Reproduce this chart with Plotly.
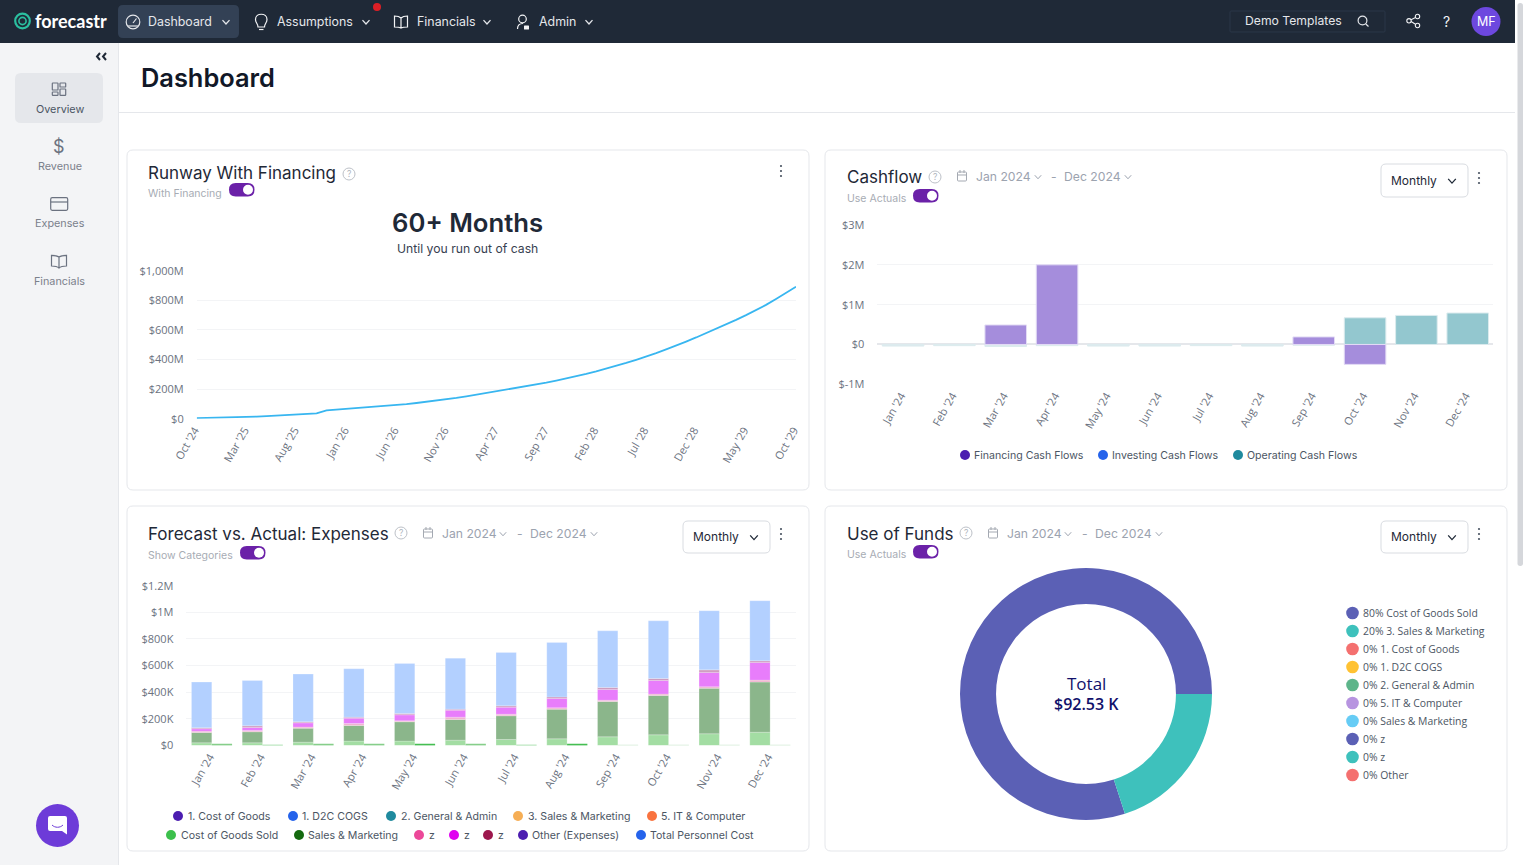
import re
import numpy as np
import pandas as pd
import plotly.graph_objects as go

W, H = 1525, 865

# ---------- data ----------
runway_values = [4.5, 5.5, 7, 8, 9.5, 11, 14, 17, 20, 23.5, 27, 29.5, 36, 56, 61, 65, 70, 75, 81, 86, 92,
                 99, 106, 114, 122, 130, 140, 151, 162, 172, 183, 194, 206, 218, 230, 243, 257, 271, 287,
                 303, 320, 338, 357, 377, 398, 419, 443, 468, 493, 521, 549, 578, 607, 637, 668, 700, 733,
                 769, 809, 850, 892]
runway_months = list(pd.date_range("2024-10-01", periods=61, freq="MS").strftime("%b '%y"))
runway_ticks = ["Oct '24", "Mar '25", "Aug '25", "Jan '26", "Jun '26", "Nov '26", "Apr '27", "Sep '27",
                "Feb '28", "Jul '28", "Dec '28", "May '29", "Oct '29"]
runway_ytick = [0, 200, 400, 600, 800, 1000]
runway_ylab = ["$0", "$200M", "$400M", "$600M", "$800M", "$1,000M"]

months_2024 = ["Jan '24", "Feb '24", "Mar '24", "Apr '24", "May '24", "Jun '24", "Jul '24", "Aug '24",
               "Sep '24", "Oct '24", "Nov '24", "Dec '24"]

cash_financing = [None, None, 0.49, 2.0, None, None, None, None, 0.19, -0.5, None, None]
cash_operating = [-0.04, -0.03, -0.05, -0.03, -0.04, -0.04, -0.03, -0.04, -0.02, 0.67, 0.73, 0.79]
cash_ytick = [-1, 0, 1, 2, 3]
cash_ylab = ["$-1M", "$0", "$1M", "$2M", "$3M"]

exp_cogs = [20, 20, 25, 33, 33, 40, 45, 50, 65, 80, 88, 100]
exp_sales = [78, 83, 105, 117, 145, 155, 178, 223, 265, 296, 341, 376]
exp_z1 = [9, 10, 8, 15, 7, 18, 12, 10, 10, 10, 12, 15]
exp_z2 = [18, 22, 32, 40, 45, 52, 53, 70, 81, 102, 108, 133]
exp_z3 = [8, 13, 8, 8, 10, 8, 10, 12, 15, 15, 19, 12]
exp_personnel = [343, 340, 358, 363, 376, 383, 401, 409, 425, 433, 444, 451]
exp_second = [10, 5, 10, 10, 12, 10, 5, 12, 6, 6, 6, 6]
exp_second_colors = ["#86CE8A", "#7DCF84", "#86CE8A", "#86CE8A", "#45BE52", "#86CE8A", "#7DCF84", "#45BE52",
                     "#CBE8CD", "#CBE8CD", "#CBE8CD", "#CBE8CD"]
exp_ytick = [0, 200, 400, 600, 800, 1000, 1200]
exp_ylab = ["$0", "$200K", "$400K", "$600K", "$800K", "$1M", "$1.2M"]

funds_labels = ["Cost of Goods Sold", "3. Sales & Marketing", "1. Cost of Goods", "1. D2C COGS",
                "2. General & Admin", "5. IT & Computer", "Sales & Marketing", "z", "z", "Other"]
funds_values = [74.02, 18.51, 0, 0, 0, 0, 0, 0, 0, 0]
funds_pct = [80, 20, 0, 0, 0, 0, 0, 0, 0, 0]
funds_colors = ["#5B60B5", "#3EC1BC", "#F4706F", "#FFC233", "#5DB58A", "#B794E0", "#66CCF5", "#5B60B5",
                "#3EC1BC", "#F4706F"]

cash_legend = ["Financing Cash Flows", "Investing Cash Flows", "Operating Cash Flows"]
cash_legend_colors = ["#4C1DB0", "#2563EB", "#1F8A9E"]
exp_legend_rows = [
    ["1. Cost of Goods", "1. D2C COGS", "2. General & Admin", "3. Sales & Marketing", "5. IT & Computer"],
    ["Cost of Goods Sold", "Sales & Marketing", "z", "z", "z", "Other (Expenses)", "Total Personnel Cost"],
]
exp_legend_colors = [
    ["#4C1DB0", "#2563EB", "#1F8A9E", "#F6AE55", "#F9733F"],
    ["#3CC04C", "#14690F", "#EC4899", "#E000F0", "#9D174D", "#4C1DB0", "#2563EB"],
]

# ---------- helpers ----------
X = lambda px: px / W
Y = lambda py: 1 - py / H
shapes, notes = [], []
INTER, OPEN = "Inter", "Open Sans"
TICK = dict(family=OPEN, size=11, color="#6B7280")


def path(d, fill=None, stroke=None, width=1.2):
    out, i = [], 0
    for tok in re.findall(r"[MLCQZ]|-?\d+\.?\d*", d):
        if tok in "MLCQZ":
            out.append(tok)
        else:
            out.append(f"{X(float(tok)) if i % 2 == 0 else Y(float(tok)):.5f}")
            i += 1
    shapes.append(dict(type="path", path=" ".join(out), xref="paper", yref="paper", layer="below",
                       fillcolor=fill or "rgba(0,0,0,0)",
                       line=dict(color=stroke or "rgba(0,0,0,0)", width=width if stroke else 0)))


def rrect(x0, y0, x1, y1, r, fill=None, stroke=None, width=1):
    path(f"M{x0 + r} {y0} L{x1 - r} {y0} Q{x1} {y0} {x1} {y0 + r} L{x1} {y1 - r} Q{x1} {y1} {x1 - r} {y1} "
         f"L{x0 + r} {y1} Q{x0} {y1} {x0} {y1 - r} L{x0} {y0 + r} Q{x0} {y0} {x0 + r} {y0} Z", fill, stroke, width)


def circ(cx, cy, r, fill=None, stroke=None, width=1.2):
    shapes.append(dict(type="circle", xref="paper", yref="paper", layer="below",
                       x0=X(cx - r), x1=X(cx + r), y0=Y(cy + r), y1=Y(cy - r),
                       fillcolor=fill or "rgba(0,0,0,0)",
                       line=dict(color=stroke or "rgba(0,0,0,0)", width=width if stroke else 0)))


def text(x, y, s, size=11, color="#4B5563", family=INTER, anchor="left", weight=400):
    nudge = -1 if anchor == "left" else 0
    notes.append(dict(x=X(x + nudge), y=Y(y), xref="paper", yref="paper", text=s, showarrow=False, xanchor=anchor,
                      yanchor="middle", borderpad=0,
                      font=dict(family=family, size=size, color=color, weight=weight)))


def chevron(cx, cy, c="#E5E7EB", s=3.5, width=1.3):
    path(f"M{cx - s} {cy - s * 0.55} L{cx} {cy + s * 0.55} L{cx + s} {cy - s * 0.55}", None, c, width)


def kebab(cx, cy):
    for d in (-5, 0, 5):
        circ(cx, cy + d, 1.1, "#4B5563")


def helpicon(cx, cy):
    circ(cx, cy, 6, None, "#BDC1C8", 1)
    text(cx, cy, "?", 8.5, "#B0B5BD", anchor="center")


def calendar(cx, cy):
    rrect(cx - 4.5, cy - 4, cx + 4.5, cy + 5, 1, None, "#A4A9B2", 1)
    path(f"M{cx - 4.5} {cy - 1} L{cx + 4.5} {cy - 1}", None, "#A4A9B2", 1)
    path(f"M{cx - 2} {cy - 6} L{cx - 2} {cy - 3} M{cx + 2} {cy - 6} L{cx + 2} {cy - 3}", None, "#A4A9B2", 1)


def toggle(x0, y0):
    rrect(x0, y0, x0 + 25.5, y0 + 13.5, 6.7, "#6B21A8")
    circ(x0 + 19, y0 + 6.7, 5, "#FFFFFF")


def dates(cal, jan, c1, dash, dec, c2, y):
    calendar(cal, y)
    text(jan, y, "Jan 2024", 12.2, "#9CA3AF")
    chevron(c1, y + 1, "#9CA3AF", 3.2, 1)
    text(dash, y, "-", 12.2, "#9CA3AF", anchor="center")
    text(dec, y, "Dec 2024", 12.2, "#9CA3AF")
    chevron(c2, y + 1, "#9CA3AF", 3.2, 1)


def dropdown(x0, y0, y1):
    rrect(x0, y0, x0 + 87, y1, 5, "#FFFFFF", "#D9DCE1", 1)
    text(x0 + 10, (y0 + y1) / 2 - 0.5, "Monthly", 12, "#1F2937")
    chevron(x0 + 71, (y0 + y1) / 2 + 0.5, "#1F2937", 3.8, 1.3)


# ---------- page chrome ----------
path("M0 0 L1515 0 L1515 43 L0 43 Z", "#1F2937")
path("M0 43 L118 43 L118 865 L0 865 Z", "#F3F4F6")
path("M118.5 43 L118.5 865", None, "#E5E7EB", 1)
path("M119 112.5 L1515 112.5", None, "#E5E7EB", 1)
rrect(1517.5, 3, 1523, 566, 2.7, "#D5D7DB")

# logo
circ(22.5, 21, 7.3, None, "#2BBFA0", 2.2)
circ(22.5, 21, 3.6, None, "#2BBFA0", 1.6)
path("M13 15 L17 12.5", None, "#1F2937", 2)
text(35, 21, "forecastr", 18, "#FFFFFF", "Lato", weight=700)

# top nav
rrect(118, 5, 239, 38, 5, "#334155")
circ(133, 22, 6.8, None, "#E5E7EB", 1.2)
path("M133 23 L136.5 18.5", None, "#E5E7EB", 1.2)
path("M128 26 L138 26", None, "#E5E7EB", 1.2)
text(148, 21.5, "Dashboard", 12.4, "#E5E7EB")
chevron(226, 22)
path("M258 27 C258 23.5 255.5 23 255.5 19.5 C255.5 12.5 267 12.5 267 19.5 C267 23 264.5 23.5 264.5 27 Z", None, "#F3F4F6", 1.2)
path("M259 29.5 L263.5 29.5", None, "#F3F4F6", 1.2)
text(277, 21.5, "Assumptions", 12.4, "#E5E7EB")
chevron(366, 22)
circ(377, 7, 4, "#DC1F26")
path("M401 18 C399 16 397 16 394.5 16 L394.5 27 C397 27 399 27 401 28 C403 27 405 27 407.5 27 L407.5 16 C405 16 403 16 401 18 Z M401 18 L401 28",
     None, "#F3F4F6", 1.2)
text(417, 21.5, "Financials", 12.4, "#E5E7EB")
chevron(487, 22)
circ(522.5, 19, 3.8, None, "#F3F4F6", 1.2)
path("M517.5 29 C517.5 25 520 23.5 523 23.5", None, "#F3F4F6", 1.2)
rrect(524, 25.5, 529, 29.5, 0.6, "#F3F4F6")
text(539, 21.5, "Admin", 12.4, "#E5E7EB")
chevron(589, 22)

rrect(1230, 11, 1385, 32, 1, None, "#2B3748", 1)
text(1245, 20.5, "Demo Templates", 12.2, "#E5E7EB")
circ(1362.5, 20.5, 4.4, None, "#E5E7EB", 1.2)
path("M1365.8 24 L1368.5 26.5", None, "#E5E7EB", 1.2)
path("M1417.5 16.5 L1409.5 20.5 L1417.5 25.5", None, "#F3F4F6", 1.1)
circ(1417.5, 16.5, 2.2, "#1F2937", "#F3F4F6", 1.1)
circ(1409, 20.8, 2.2, "#1F2937", "#F3F4F6", 1.1)
circ(1417.5, 25.5, 2.2, "#1F2937", "#F3F4F6", 1.1)
text(1446, 21, "?", 14, "#F3F4F6", anchor="center")
circ(1486, 21.5, 14.5, "#6D48DF")
text(1486, 21.5, "MF", 12.5, "#FFFFFF", anchor="center")

# sidebar
path("M100 53 L97 56.5 L100 60 M106 53 L103 56.5 L106 60", None, "#1F2937", 2)
rrect(15, 73, 103, 123, 6, "#E5E7EB")
for a, b, c, d in [(52.3, 83, 58, 90), (60, 83, 65.7, 87), (52.3, 92, 58, 95.3), (60, 89, 65.7, 95.3)]:
    rrect(a, b, c, d, 0.6, None, "#6B7280", 1.2)
text(59.5, 109, "Overview", 10.8, "#4B5563", anchor="center")
text(59, 147, "$", 18, "#6B7280", anchor="center")
text(59.5, 166, "Revenue", 10.8, "#7B818C", anchor="center")
rrect(50.7, 197.7, 67.7, 210.3, 1.5, None, "#6B7280", 1.2)
path("M50.7 202 L67.7 202", None, "#6B7280", 1.2)
text(59.5, 224, "Expenses", 10.8, "#7B818C", anchor="center")
path("M59 257 C57 255.5 54 255.3 51.5 255.3 L51.5 266 C54 266 57 266.2 59 268 C61 266.2 64 266 66.5 266 L66.5 255.3 C64 255.3 61 255.5 59 257 Z M59 257 L59 268",
     None, "#6B7280", 1.2)
text(59.5, 281, "Financials", 10.8, "#7B818C", anchor="center")
circ(57.5, 825.5, 21.5, "#6D3BD8")
path("M50 816 L65 816 Q67 816 67 818 L67 834.5 L62 831 L50 831 Q48 831 48 829 L48 818 Q48 816 50 816 Z", "#FFFFFF")
path("M52 825 C55 828 60 828 63 825", None, "#6D3BD8", 1)

text(141, 78, "Dashboard", 25.4, "#111827", weight=600)

# cards
for x0, y0, x1, y1 in [(127, 150, 809, 490), (825, 150, 1507, 490), (127, 506, 809, 851), (825, 506, 1507, 851)]:
    rrect(x0, y0, x1, y1, 6, "#FFFFFF", "#E5E7EB", 1)

# card 1
text(148, 173.5, "Runway With Financing", 17, "#1F2937")
helpicon(349, 174)
text(148, 193.5, "With Financing", 10.5, "#A7ACB4")
toggle(229, 183)
kebab(781, 171)
text(467.5, 222.5, "60+ Months", 25.7, "#1F2937", anchor="center", weight=600)
text(467.5, 248, "Until you run out of cash", 12.2, "#374151", anchor="center")

# card 2
text(847, 176.5, "Cashflow", 17, "#1F2937")
helpicon(935, 177)
dates(962, 976, 1038, 1054, 1064, 1128, 176)
text(847, 198, "Use Actuals", 10.5, "#A7ACB4")
toggle(913, 189)
dropdown(1381, 164, 197)
kebab(1479, 178)
for cx, tx, s, c in zip((965, 1103, 1238), (974, 1112, 1247), cash_legend, cash_legend_colors):
    circ(cx, 455, 5, c)
    text(tx, 455, s, 10.6, "#4B5563")

# card 3
text(148, 533.5, "Forecast vs. Actual: Expenses", 17, "#1F2937")
helpicon(401, 533)
dates(428, 442, 503, 520, 530, 594, 533)
text(148, 555, "Show Categories", 10.5, "#A7ACB4")
toggle(240, 546)
dropdown(683, 521, 553)
kebab(781, 534)
exp_leg_cx = [[178, 293, 391, 518, 652], [171, 299, 419, 454, 488, 523, 641]]
exp_leg_tx = [[188, 302, 401, 528, 661], [181, 308, 429, 463.5, 498, 532, 650]]
for row, y in enumerate((816, 835)):
    for cx, tx, s, c in zip(exp_leg_cx[row], exp_leg_tx[row], exp_legend_rows[row], exp_legend_colors[row]):
        circ(cx, y, 5, c)
        text(tx, y, s, 10.6, "#4B5563")

# card 4
text(847, 533.5, "Use of Funds", 17, "#1F2937")
helpicon(966, 533)
dates(993, 1007, 1068, 1085, 1095, 1159, 533)
text(847, 554, "Use Actuals", 10.5, "#A7ACB4")
toggle(913, 545)
dropdown(1381, 521, 553)
kebab(1479, 534)
for i, (lab, pct, col) in enumerate(zip(funds_labels, funds_pct, funds_colors)):
    y = 613 + 18 * i
    circ(1352.5, y, 6.3, col)
    text(1363, y, f"{pct}% {lab}", 10.4, "#4B5563", OPEN)
text(1086, 683, "Total", 17, "#11116B", OPEN, "center")
text(1086, 704, "$92.53 K", 16, "#11116B", OPEN, "center", 600)

# ---------- traces ----------
fig = go.Figure()
fig.add_trace(go.Scatter(x=runway_months, y=runway_values, mode="lines", name="Runway",
                         line=dict(color="#38B6F0", width=1.8), xaxis="x", yaxis="y"))

cash_op_colors = ["#93C7CF" if v > 0 else "#DCEAED" for v in cash_operating]
fig.add_trace(go.Bar(x=months_2024, y=cash_operating, name="Operating Cash Flows", xaxis="x2", yaxis="y2",
                     marker=dict(color=cash_op_colors, line=dict(color="#DCEBEE", width=1))))
fig.add_trace(go.Bar(x=months_2024, y=cash_financing, name="Financing Cash Flows", xaxis="x2", yaxis="y2",
                     marker=dict(color="#A58DDC", line=dict(color="#E3DCF5", width=1))))

base = np.zeros(12)
stack = [("Cost of Goods Sold", exp_cogs, "#A3DDA3"), ("Sales & Marketing", exp_sales, "#8BB68B"),
         ("z", exp_z1, "#F0B4D0"), ("z", exp_z2, "#E87DFB"), ("z", exp_z3, "#CE9CC0"),
         ("Total Personnel Cost", exp_personnel, "#B3D0FF")]
for name, vals, col in stack:
    fig.add_trace(go.Bar(x=months_2024, y=vals, base=list(base), name=name, width=0.4, offset=-0.4,
                         xaxis="x3", yaxis="y3",
                         marker=dict(color=col, line=dict(color="rgba(255,255,255,0.35)", width=0.6))))
    base = base + np.array(vals)
fig.add_trace(go.Bar(x=months_2024, y=exp_second, name="Cost of Goods Sold", width=0.4, offset=0,
                     xaxis="x3", yaxis="y3", marker=dict(color=exp_second_colors, line=dict(width=0))))

fig.add_trace(go.Pie(labels=funds_labels, values=funds_values, hole=0.714, rotation=162, sort=False,
                     direction="clockwise", textinfo="none", showlegend=False,
                     marker=dict(colors=funds_colors, line=dict(width=0)),
                     domain=dict(x=[X(960), X(1212)], y=[Y(820), Y(568)])))


def xaxis(x0, x1, anchor, **kw):
    return dict(domain=[X(x0), X(x1)], anchor=anchor, type="category", showgrid=False, zeroline=False,
                showline=False, tickangle=-60, tickfont=TICK, ticks="", fixedrange=True, automargin=False,
                ticklabelstandoff=2, ticklabelshift=-2, **kw)


def yaxis(y0, y1, anchor, rng, vals, labs, standoff):
    return dict(domain=[Y(y1), Y(y0)], anchor=anchor, range=rng, tickmode="array", tickvals=vals, ticktext=labs,
                showgrid=True, gridcolor="#F3F4F6", gridwidth=1, zeroline=False, showline=False, tickfont=TICK,
                ticks="", fixedrange=True, automargin=False, ticklabelstandoff=standoff)


fig.update_layout(
    width=W, height=H, margin=dict(l=0, r=0, t=0, b=0, pad=0, autoexpand=False), autosize=False,
    paper_bgcolor="#FFFFFF", plot_bgcolor="rgba(0,0,0,0)", showlegend=False,
    barmode="overlay", bargap=0.19,
    shapes=shapes, annotations=notes,
    xaxis=xaxis(196.7, 796, "y", range=[0, 60], tickmode="array", tickvals=runway_ticks, ticktext=runway_ticks),
    yaxis=yaxis(270.7, 418.7, "x", [0, 1000], runway_ytick, runway_ylab, 12),
    xaxis2=xaxis(877.4, 1493.4, "y2", range=[-0.5, 11.5]),
    yaxis2=yaxis(225, 384.3, "x2", [-1, 3], cash_ytick, cash_ylab, 12),
    xaxis3=xaxis(186.4, 795.5, "y3", range=[-0.5, 11.5]),
    yaxis3=yaxis(585.7, 745.5, "x3", [0, 1200], exp_ytick, exp_ylab, 12),
)
fig.update_layout(yaxis2=dict(zeroline=True, zerolinecolor="#E5E7EB", zerolinewidth=2))

fig.write_html("out.html", config=dict(displayModeBar=False, responsive=False),
               post_script="document.body.style.margin='0';document.body.style.overflow='hidden';")
